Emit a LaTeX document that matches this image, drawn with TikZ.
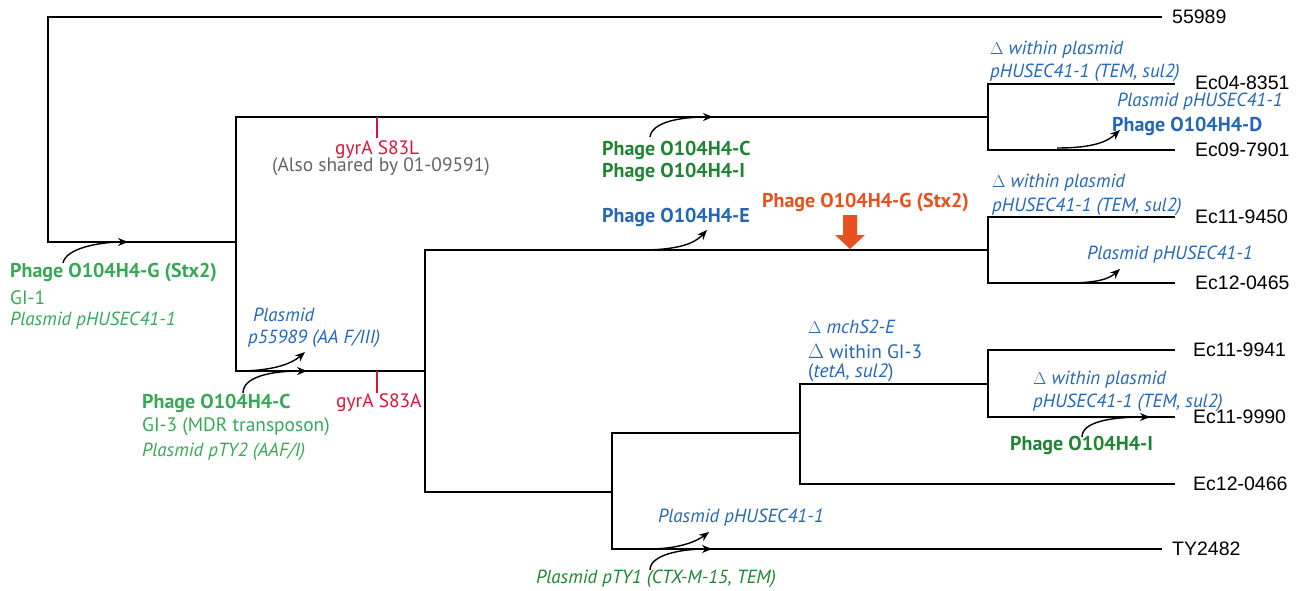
\documentclass[tikz,border=0pt]{standalone}
\usepackage{fontspec}
\setmainfont{Liberation Sans}
\newfontfamily\lab{PT Sans}
\usetikzlibrary{arrows.meta}
\definecolor{lgreen}{RGB}{56,168,88}
\definecolor{dgreen}{RGB}{32,132,52}
\definecolor{lblue}{RGB}{38,102,182}
\definecolor{lred}{RGB}{218,22,56}
\definecolor{lorange}{RGB}{232,80,30}
\definecolor{lgray}{RGB}{100,100,100}
\tikzset{
  branch/.style={line width=2.2pt, black},
  tick/.style={line width=2pt, lred},
  harrow/.style={line width=1.4pt, -{Stealth[length=10pt,width=8pt]}},
  tip/.style={anchor=west, inner sep=0pt, font=\fontsize{19.5}{22}\selectfont},
  lb/.style={anchor=west, inner sep=0pt, font=\lab\fontsize{19.4}{22}\selectfont},
  lbb/.style={lb, font=\lab\bfseries\fontsize{20}{22}\selectfont},
  lbi/.style={lb, font=\lab\itshape\fontsize{19}{22}\selectfont},
}
\begin{document}
\begin{tikzpicture}[x=1pt,y=-1pt]
\useasboundingbox (0,0) rectangle (1303,591);
% internal nodes
\coordinate (R) at (48,242);
\coordinate (A) at (236,242);
\coordinate (B) at (988,117);
\coordinate (C) at (425,371);
\coordinate (D) at (988,250);
\coordinate (E) at (612,492);
\coordinate (F) at (800,433);
\coordinate (G) at (988,384);
% tips
\coordinate (t0) at (1162,17);
\coordinate (t1) at (1175,84);
\coordinate (t2) at (1175,150);
\coordinate (t3) at (1175,217);
\coordinate (t4) at (1175,283);
\coordinate (t5) at (1175,350);
\coordinate (t6) at (1175,417);
\coordinate (t7) at (1175,484);
\coordinate (t8) at (1162,549);
% branches
\draw[branch] (t0) -| (R) -- (A);
\draw[branch] (B) -| (A) |- (C);
\draw[branch] (t1) -| (B) |- (t2);
\draw[branch] (D) -| (C) |- (E);
\draw[branch] (t3) -| (D) |- (t4);
\draw[branch] (F) -| (E) |- (t8);
\draw[branch] (G) -| (F) |- (t7);
\draw[branch] (t5) -| (G) |- (t6);
% tip labels
\node[tip] (l0) at (1172,17) {55989};
\node[tip] (l1) at (1195,83) {Ec04-8351};
\node[tip] (l2) at (1195,150) {Ec09-7901};
\node[tip] (l3) at (1195,217) {Ec11-9450};
\node[tip] (l4) at (1195,283) {Ec12-0465};
\node[tip] (l5) at (1193,350) {Ec11-9941};
\node[tip] (l6) at (1193,417) {Ec11-9990};
\node[tip] (l7) at (1193,484) {Ec12-0466};
\node[tip] (l8) at (1172,549) {TY2482};
% red ticks
\coordinate (k1a) at (377,117); \coordinate (k1b) at (377,138);
\coordinate (k2a) at (377,371); \coordinate (k2b) at (377,393);
\draw[tick] (k1a) -- (k1b);
\draw[tick] (k2a) -- (k2b);
% orange arrow
\fill[lorange] (843,215) -- (857,215) -- (857,235) -- (865,235) -- (850,249) -- (835,235) -- (843,235) -- cycle;
% labels
\node[lbb, text=lgreen] (g1) at (10,273) {Phage O104H4-G (Stx2)};
\node[lb, text=lgreen] (g2) at (10,298) {GI-1};
\node[lbi, text=lgreen] (g3) at (10,321) {Plasmid pHUSEC41-1};
\node[lbi, text=lblue] (p1) at (253,315) {Plasmid};
\node[lbi, text=lblue] (p2) at (248,339) {p55989 (AA F/III)};
\node[lbb, text=lgreen] (c1) at (142,403) {Phage O104H4-C};
\node[lb, text=lgreen] (c2) at (142,427) {GI-3 (MDR transposon)};
\node[lbi, text=lgreen] (c3) at (142,452) {Plasmid pTY2 (AAF/I)};
\node[lb, text=lred] (r2) at (336,403) {gyrA S83A};
\node[lb, text=lred] (r1) at (335,150) {gyrA S83L};
\node[lb, text=lgray] (s1) at (272,167) {(Also shared by 01-09591)};
\node[lbb, text=dgreen] (h1) at (602,150) {Phage O104H4-C};
\node[lbb, text=dgreen] (h2) at (602,172) {Phage O104H4-I};
\node[lbb, text=lblue] (e1) at (602,217) {Phage O104H4-E};
\node[lbb, text=lorange] (o1) at (762,203) {Phage O104H4-G (Stx2)};
\node[lbi, text=lblue] (d1) at (990,50) {{\upshape\(\Delta\)} within plasmid};
\node[lbi, text=lblue] (d2) at (990,73) {pHUSEC41-1 (TEM, sul2)};
\node[lbi, text=lblue] (d3) at (1117,102) {Plasmid pHUSEC41-1};
\node[lbb, text=lblue] (d4) at (1112,126) {Phage O104H4-D};
\node[lbi, text=lblue] (f1) at (992,183) {{\upshape\(\Delta\)} within plasmid};
\node[lbi, text=lblue] (f2) at (992,207) {pHUSEC41-1 (TEM, sul2)};
\node[lbi, text=lblue] (f3) at (1087,255) {Plasmid pHUSEC41-1};
\node[lbi, text=lblue] (m1) at (808,327) {{\upshape\(\Delta\)} mchS2-E};
\node[lb, text=lblue] (m2) at (808,352) {\(\Delta\) within GI-3};
\node[lb, text=lblue] (m3) at (808,373) {(\textit{tetA, sul2})};
\node[lbi, text=lblue] (n1) at (1033,380) {{\upshape\(\Delta\)} within plasmid};
\node[lbi, text=lblue] (n2) at (1033,403) {pHUSEC41-1 (TEM, sul2)};
\node[lbb, text=dgreen] (n3) at (1010,445) {Phage O104H4-I};
\node[lbi, text=lblue] (b1) at (658,518) {Plasmid pHUSEC41-1};
\node[lbi, text=dgreen] (b2) at (536,579) {Plasmid pTY1 (CTX-M-15, TEM)};
% arrows
\coordinate (a1s) at (63,263);   \coordinate (a1e) at (128,242);
\coordinate (a2s) at (237,371);  \coordinate (a2e) at (305,352);
\coordinate (a3s) at (243,393);  \coordinate (a3e) at (307,371);
\coordinate (a4s) at (650,137);  \coordinate (a4e) at (713,117);
\coordinate (a5s) at (640,250);  \coordinate (a5e) at (707,230);
\coordinate (a6s) at (1057,148); \coordinate (a6e) at (1120,130);
\coordinate (a7s) at (1067,283); \coordinate (a7e) at (1120,269);
\coordinate (a8s) at (1082,437); \coordinate (a8e) at (1150,417);
\coordinate (a9s) at (648,549);  \coordinate (a9e) at (709,532);
\coordinate (a10s) at (650,570); \coordinate (a10e) at (712,549);
\draw[harrow] (a1s) .. controls (66,248) and (100,242) .. (a1e);
\draw[harrow] (a2s) .. controls (270,371) and (290,365) .. (a2e);
\draw[harrow] (a3s) .. controls (243,377) and (270,371) .. (a3e);
\draw[harrow] (a4s) .. controls (652,122) and (680,117) .. (a4e);
\draw[harrow] (a5s) .. controls (680,250) and (695,243) .. (a5e);
\draw[harrow] (a6s) .. controls (1095,148) and (1108,141) .. (a6e);
\draw[harrow] (a7s) .. controls (1100,283) and (1110,278) .. (a7e);
\draw[harrow] (a8s) .. controls (1082,422) and (1110,417) .. (a8e);
\draw[harrow] (a9s) .. controls (680,549) and (697,541) .. (a9e);
\draw[harrow] (a10s) .. controls (650,555) and (680,549) .. (a10e);
\end{tikzpicture}
\end{document}
